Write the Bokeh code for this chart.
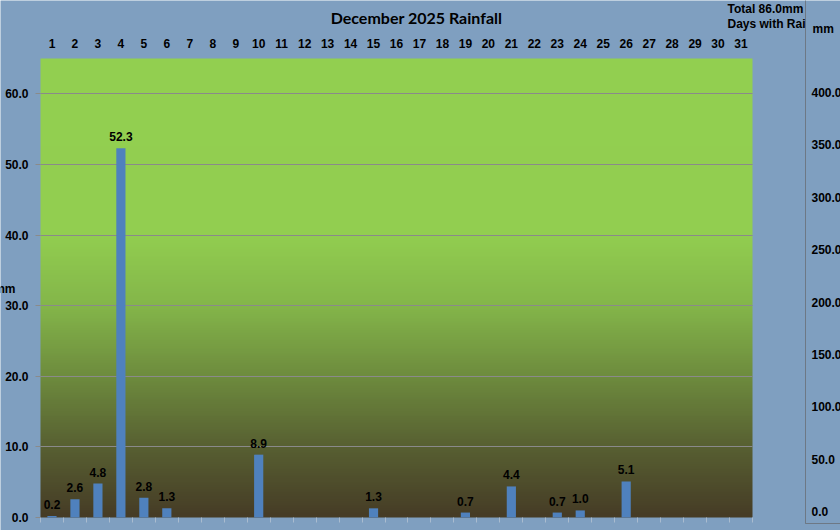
import numpy as np
from bokeh.plotting import figure
from bokeh.models import (Range1d, LinearAxis, FixedTicker, NumeralTickFormatter,
                          ColumnDataSource, LabelSet, Label, BoxAnnotation, Grid)
from bokeh.core.properties import value
from bokeh.embed import file_html
from bokeh.resources import INLINE

# ---------------- data ----------------
DAYS = list(range(1, 32))
DAY_LABELS = [str(d) for d in DAYS]
RAIN_MM = [0.2, 2.6, 4.8, 52.3, 2.8, 1.3, 0, 0, 0, 8.9,
           0, 0, 0, 0, 1.3, 0, 0, 0, 0.7, 0,
           4.4, 0, 0.7, 1.0, 0, 5.1, 0, 0, 0, 0, 0]
LEFT_TICKS = [0, 10, 20, 30, 40, 50, 60]
RIGHT_TICKS = [0, 50, 100, 150, 200, 250, 300, 350, 400]
TITLE = "December 2025 Rainfall"
TOTAL_TEXT = "Total 86.0mm"
DAYS_TEXT = "Days with Rai"
UNIT = "mm"
Y_MAX = 65

# ---------------- layout / style ----------------
BG = "#7f9fc0"
BAR = "#4f81bd"
GRID = "#8a8a8a"
PANEL_LINE = "#6d7885"
FONT = "Liberation Sans"
W, H = 840, 530
FL, FR, FT, FB = 40, 752, 58, 517        # plot-area edges in canvas pixels
R0_PY, R400_PY = 511, 92                 # right (cumulative) axis: pixel rows of 0 and 400


def xd(px):
    return 0.5 + (px - FL) * 31.0 / (FR - FL)


def yd(py):
    return Y_MAX * (FB - py) / (FB - FT)


def rd(py):
    return 400.0 * (R0_PY - py) / (R0_PY - R400_PY)


p = figure(width=W, height=H, output_backend="svg", toolbar_location=None,
           x_range=Range1d(xd(0), xd(W)), y_range=Range1d(yd(H), yd(0)),
           x_axis_type=None, y_axis_type=None,
           min_border_left=0, min_border_right=0, min_border_top=0, min_border_bottom=0,
           background_fill_color=BG, border_fill_color=BG, outline_line_color=None)
p.extra_y_ranges = {"cum": Range1d(rd(H), rd(0))}
p.xgrid.visible = False
p.ygrid.visible = False

# gradient background of the plot area
n = 260
vals = np.linspace(0, Y_MAX, n)
sv = [0, 10, 20, 30, 40, Y_MAX]
img = np.empty((n, 1), dtype=np.uint32)
view = img.view(dtype=np.uint8).reshape((n, 1, 4))
view[:, 0, 0] = np.interp(vals, sv, [70, 88, 110, 132, 146, 146]).astype(np.uint8)
view[:, 0, 1] = np.interp(vals, sv, [60, 96, 140, 182, 206, 208]).astype(np.uint8)
view[:, 0, 2] = np.interp(vals, sv, [38, 50, 62, 74, 80, 80]).astype(np.uint8)
view[:, 0, 3] = 255
p.image_rgba(image=[img], x=0.5, y=0, dw=31, dh=Y_MAX, level="image")

# horizontal grid lines, only across the plot area
p.add_layout(Grid(dimension=1, ticker=FixedTicker(ticks=LEFT_TICKS[1:]),
                  cross_bounds=(0.5, 31.5), grid_line_color=GRID))
# short tick marks under the plot at day boundaries
p.add_layout(Grid(dimension=0,
                  ticker=FixedTicker(ticks=[d - 0.5 for d in DAYS] + [DAYS[-1] + 0.5]),
                  cross_bounds=(yd(FB + 5), 0), grid_line_color="#a9bbcf"))

# right-hand panel border (cumulative chart): vertical edge and bottom edge
p.add_layout(Grid(dimension=0, ticker=FixedTicker(ticks=[xd(805)]),
                  cross_bounds=(yd(523), yd(0)), grid_line_color=PANEL_LINE))
p.add_layout(Grid(dimension=1, ticker=FixedTicker(ticks=[yd(523)]),
                  cross_bounds=(xd(805), xd(W)), grid_line_color=PANEL_LINE))

# bars
p.vbar(x=DAYS, top=RAIN_MM, width=0.4, fill_color=BAR, line_color=None)

nz = [(d, v) for d, v in zip(DAYS, RAIN_MM) if v > 0]
lab_src = ColumnDataSource(dict(x=[d for d, _ in nz], y=[v for _, v in nz],
                                t=["%.1f" % v for _, v in nz]))
p.add_layout(LabelSet(x="x", y="y", text="t", source=lab_src, y_offset=7,
                      text_align="center", text_baseline="alphabetic",
                      text_font=value(FONT), text_font_style="bold",
                      text_font_size="12px", text_color="#000000"))


def style_axis(ax):
    ax.major_label_text_font = FONT
    ax.major_label_text_font_style = "bold"
    ax.major_label_text_font_size = "12px"
    ax.major_label_text_color = "#000000"
    ax.minor_tick_line_color = None
    ax.major_tick_in = 0


# left axis
yax = LinearAxis(fixed_location=0.5, bounds=(0, Y_MAX),
                 ticker=FixedTicker(ticks=LEFT_TICKS),
                 formatter=NumeralTickFormatter(format="0.0"))
style_axis(yax)
yax.major_tick_out = 5
yax.major_tick_line_color = GRID
yax.axis_line_color = None
yax.major_label_standoff = 7
p.add_layout(yax, "left")

# top axis (day numbers)
xax = LinearAxis(fixed_location=Y_MAX, bounds=(0.5, 31.5),
                 ticker=FixedTicker(ticks=DAYS))
xax.major_label_overrides = {d: s for d, s in zip(DAYS, DAY_LABELS)}
style_axis(xax)
xax.major_tick_line_color = None
xax.major_tick_out = 0
xax.axis_line_color = None
xax.major_label_standoff = 11
p.add_layout(xax, "above")

# right axis of the cumulative panel
rax = LinearAxis(y_range_name="cum", fixed_location=xd(805), bounds=(rd(523), rd(0)),
                 ticker=FixedTicker(ticks=RIGHT_TICKS),
                 formatter=NumeralTickFormatter(format="0.0"))
style_axis(rax)
rax.major_tick_line_color = None
rax.major_tick_out = 0
rax.axis_line_color = PANEL_LINE
rax.major_label_standoff = 6
p.add_layout(rax, "right")


# texts
def lab(x, y, text, align="left", baseline="middle", size="12px", font=FONT):
    p.add_layout(Label(x=x, y=y, text=text, text_align=align, text_baseline=baseline,
                       text_font=font, text_font_style="bold",
                       text_font_size=size, text_color="#000000"))


lab(xd(416), yd(17), TITLE, align="center", size="16px", font="Lato")
lab(xd(727), yd(8), TOTAL_TEXT)
lab(xd(727), yd(23), DAYS_TEXT)
lab(xd(812), yd(28), UNIT)
lab(xd(15), yd(288), UNIT, align="right")

open("out.html", "w").write(file_html(p, INLINE))
